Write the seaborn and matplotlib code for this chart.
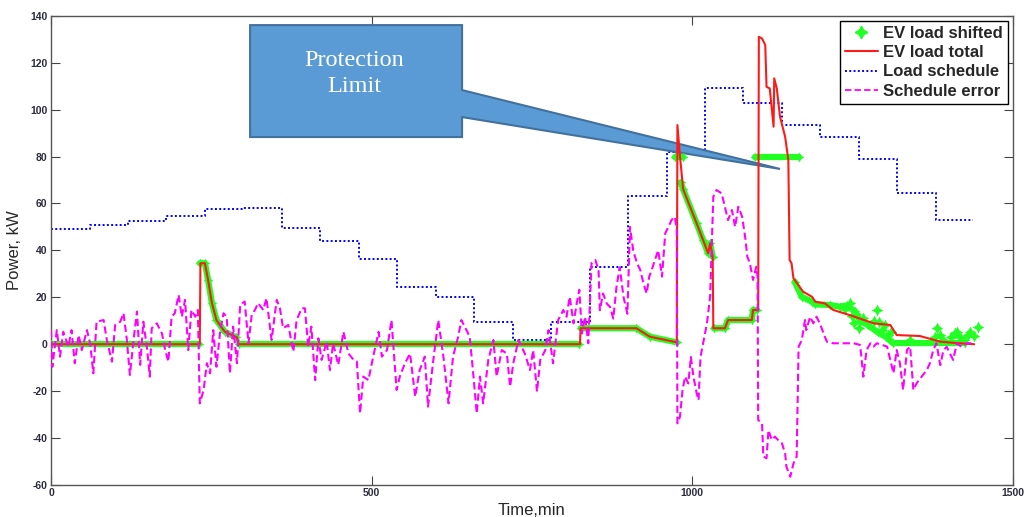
#%% Imports
import matplotlib
matplotlib.use("Agg")
import matplotlib.pyplot as plt
from matplotlib.lines import Line2D
from matplotlib.patches import Polygon
import pandas as pd
import seaborn as sns

#%% Data (time in minutes, power in kW)
# Load schedule, one value per hour (last value repeated to close the step)
schedule_t = [0, 60, 120, 180, 240, 300, 360, 420, 480, 540, 600, 660, 720,
              780, 840, 900, 960, 1020, 1080, 1140, 1200, 1260, 1320, 1380, 1438]
schedule_p = [49, 51, 52.5, 54.5, 57.5, 58, 49.5, 44, 36.5, 24.5, 20, 9.6, 1.8,
              9.6, 32.8, 63, 82, 109.3, 103, 93.4, 88.4, 78.8, 64.5, 53, 53]

# EV load total
total_t = [0, 232, 233, 240, 245, 251, 258, 271, 290, 292,
           825, 826, 913, 934, 976, 977, 981, 986, 1007, 1017,
           1025, 1028, 1032, 1033, 1051, 1056, 1093, 1095, 1103, 1104,
           1109, 1114, 1116, 1121, 1127, 1128, 1132, 1137, 1145, 1150,
           1152, 1155, 1158, 1173, 1187, 1192, 1207, 1220, 1246, 1283,
           1309, 1319, 1355, 1387, 1407, 1440]
total_p = [0, 0, 34.5, 34.5, 27.3, 17.4, 10.3, 5.3, 2.9, 0,
           0, 6.8, 6.8, 3.2, 0.8, 93.4, 80, 66, 51.5, 44.4,
           38.7, 43, 37.3, 6.8, 6.8, 10.3, 10.3, 14.6, 14.6, 131,
           130.3, 127.5, 109.7, 109, 92.7, 113.3, 109, 97, 88.4, 78.5,
           35.9, 34.5, 28.1, 22.4, 20.2, 18.1, 17.4, 14.6, 12.4, 8.9,
           8.2, 3.9, 3.5, 1.1, 0.6, 0]

# EV load shifted, stored as separate runs (no line between runs)
shift_run = [0, 0,
             1, 1, 1, 1, 1, 1, 1,
             2, 2,
             3, 3, 3, 3,
             4, 4,
             5, 5, 5, 5, 5, 5, 5,
             6, 6, 6, 6, 6, 6,
             7, 7,
             8, 8, 8, 8, 8, 8, 8, 8, 8, 8, 8, 8, 8, 8]
shift_t = [0, 231,
           232, 240, 245, 251, 258, 271, 289,
           293, 824,
           826, 913, 934, 976,
           973, 985,
           982, 986, 1007, 1017, 1025, 1028, 1032,
           1034, 1051, 1056, 1093, 1095, 1101,
           1098, 1166,
           1160, 1171, 1187, 1192, 1215, 1230, 1241, 1254, 1262, 1275, 1290, 1303, 1313, 1425]
shift_p = [0, 0,
           34.5, 34.5, 27.3, 17.4, 10.3, 5.3, 2.9,
           0, 0,
           6.8, 6.8, 3.2, 0.8,
           80, 80,
           69, 66, 51.5, 44.4, 38.7, 43, 37.3,
           6.8, 6.8, 10.3, 10.3, 14.6, 14.6,
           80, 80,
           26.6, 20.2, 18.1, 17, 16.7, 16, 16.5, 14, 10, 8, 5, 3, 0.5, 0.5]

# scattered EV load shifted points at the end of the day
scatter_t = [1238, 1246, 1250, 1252, 1256, 1260, 1266, 1284, 1288, 1292, 1296, 1300, 1306, 1310,
             1340, 1378, 1382, 1386, 1392, 1404, 1410, 1413, 1418, 1424, 1430, 1434, 1440, 1446]
scatter_p = [15, 17.4, 12, 9, 13, 7, 11, 10, 14.6, 9.6, 6, 8, 4, 5,
             2, 3, 6.8, 4, 2, 3, 4.6, 5.3, 3, 2, 4, 5.3, 3.5, 7.2]

# Schedule error
error_t = [0, 2, 9, 14, 19, 27, 32, 37, 43, 48, 56, 61, 66, 71, 82, 87, 95, 100, 108, 113,
           118, 123, 129, 134, 139, 144, 150, 154, 157, 165, 173, 178, 183, 188, 193, 199, 204, 209, 214, 219,
           225, 229, 232, 238, 243, 248, 253, 258, 264, 269, 274, 279, 284, 290, 295, 302, 308, 313, 318, 323,
           331, 336, 344, 352, 357, 362, 370, 378, 383, 391, 396, 401, 406, 412, 417, 422, 430, 435, 440, 448,
           456, 464, 472, 477, 482, 487, 495, 503, 511, 516, 524, 531, 539, 544, 552, 560, 568, 575, 583, 588,
           596, 604, 612, 620, 627, 635, 640, 648, 653, 658, 664, 669, 674, 682, 690, 695, 703, 711, 716, 721,
           729, 739, 747, 752, 758, 763, 771, 776, 783, 791, 799, 804, 809, 815, 820, 824, 828, 833, 838, 843,
           849, 854, 856, 861, 867, 872, 877, 882, 887, 893, 899, 903, 908, 914, 919, 924, 929, 933, 937, 942,
           947, 953, 958, 963, 968, 973, 976, 977, 981, 985, 989, 994, 998, 1002, 1007, 1010, 1013, 1017, 1023, 1028,
           1033, 1038, 1046, 1051, 1056, 1062, 1067, 1072, 1078, 1083, 1086, 1090, 1095, 1100, 1102, 1103, 1109, 1111, 1116, 1119,
           1124, 1129, 1134, 1140, 1145, 1147, 1153, 1158, 1163, 1166, 1171, 1176, 1178, 1184, 1189, 1194, 1199, 1205, 1210, 1220,
           1252, 1262, 1267, 1272, 1278, 1283, 1288, 1304, 1309, 1314, 1319, 1324, 1329, 1335, 1340, 1345, 1350, 1358, 1366, 1371,
           1376, 1381, 1387, 1392, 1397, 1402, 1407, 1413, 1420, 1428, 1438]
error_p = [6, -9.6, 6, -5.3, 5.3, -1, 6, -8.1, 3.9, -2.5, 6, 0.3, -12.4, 9.6, 10.3, 1.8, -7.4, 8.2, 9.6, 13.2,
           2.5, -13.1, 2.5, 13.9, -8.8, 9.6, -2.5, -13.8, 6.8, 8.9, 4.6, -2.5, -7.4, 11.7, 13.2, 21, 11.7, 18.9, -2.5, 14.6,
           11.7, 14.6, -25.2, -19.5, -8.1, -12.4, 6, -9.6, 6, 13.2, 11.7, -12.4, 7.5, -8.1, 16.8, 18.2, 0.4, 12.5, 14.6, 17.5,
           14.6, 19.6, 1.8, 18.9, 15.3, 6.8, 8.2, -3.2, 10.3, 15.3, 15.3, -1, 7.5, -15.3, 2.5, -6.7, 1.1, -11, 0.4, -8.8,
           5.3, -4, -6.7, -7.4, -29.5, -13.8, -15.3, -4.6, 5.3, -5.3, -2.5, 10.3, -19.5, -13.8, -8.1, -4, -22.4, -11, -5.3, -26.6,
           -7.4, 10.3, -5.3, -25.2, -5.3, 3.2, 10.3, 6, 3.2, -11, -29.5, -13.8, -25.2, -6.7, 1.8, -13.8, -2.5, -4, -18.2, -8.1,
           1.8, -4, -11, -2.5, -20.2, -6.7, -2.5, 6, -8.1, 10.3, 14.6, 11.7, 20.2, 8.9, 17.5, 23.2, 4.6, 11.7, 0.4, 34.5,
           35.9, 31.6, 14.5, 21.6, 17.2, 15.9, 10.9, 24.5, 32.8, 20, 13, 50, 40, 34.5, 31.7, 26, 21.6, 28.8, 31.7, 36,
           40, 28.8, 47.3, 50, 53, 54.3, 48.6, -33.7, -30.9, -19.5, -13.8, -16.7, -5.4, -13.8, -20.9, -23.8, -5.4, 0.3, 8.8, 20.2,
           62.9, 65.7, 64.3, 58.6, 52.9, 57.2, 50, 58.6, 54.3, 45, 37.3, 34.5, 27.4, 33, 28.8, -32.3, -33.7, -47.9, -48.6, -36.6,
           -40.8, -39.4, -40.8, -42.2, -46.5, -52.2, -56.5, -50.8, -47.9, -1.1, 1.8, 10.3, 6, 11.7, 8.9, 11.7, 8.9, 4.6, 1.1, 0.4,
           0.4, -0.3, -13.8, -2.5, 0.4, -1, 0.4, -1, -6.7, -12.4, -2.5, -8.1, -19.5, -2.5, -1, -19.5, -16.7, -13.8, -11, -8,
           -2.5, 0.4, -8.9, -2.5, -1.1, -3.9, -6.7, 0.4, -1.1, 0.4, 0.4]

legend_labels = ['EV load shifted', 'EV load total', 'Load schedule', 'Schedule error']
x_ticks = [0, 500, 1000, 1500]
y_ticks = [-60, -40, -20, 0, 20, 40, 60, 80, 100, 120, 140]

#%% Colours
c_shift = '#22ff22'
c_total = '#ff1a1a'
c_sched = '#0000ff'
c_error = '#ff00ff'

#%% Figure setup
sns.set_theme(style="ticks")
plt.rcParams['font.family'] = ['Liberation Sans', 'DejaVu Sans']
plt.rcParams['axes.unicode_minus'] = False

fig = plt.figure(figsize=(10.27, 5.17), dpi=100)
ax = fig.add_axes([0.0497, 0.0619, 0.9364, 0.9077])

df_sched = pd.DataFrame({'t': schedule_t, 'p': schedule_p})
df_total = pd.DataFrame({'t': total_t, 'p': total_p})
df_shift = pd.DataFrame({'run': shift_run, 't': shift_t, 'p': shift_p})
df_scatter = pd.DataFrame({'t': scatter_t, 'p': scatter_p})
df_error = pd.DataFrame({'t': error_t, 'p': error_p})

# Load schedule (stepped, dotted) - sits below the callout
sns.lineplot(data=df_sched, x='t', y='p', ax=ax, color=c_sched, linewidth=1.4,
             drawstyle='steps-post', zorder=2)
ax.lines[-1].set_linestyle((0, (1, 1.2)))

# Callout box "Protection Limit"
callout = Polygon([(0.207, 0.980), (0.4274, 0.980), (0.4274, 0.8415), (0.758, 0.6735),
                   (0.4274, 0.784), (0.4274, 0.7415), (0.207, 0.7415)],
                  closed=True, transform=ax.transAxes, facecolor='#5b9bd5',
                  edgecolor='#41719c', linewidth=1.5, zorder=2.5)
ax.add_patch(callout)
ax.text(0.315, 0.877, 'Protection\nLimit', transform=ax.transAxes, ha='center', va='center',
        color='white', fontsize=17.5, family=['Liberation Serif'], linespacing=1.35, zorder=2.6)

# EV load shifted (thick green band with star markers)
sns.lineplot(data=df_shift, x='t', y='p', units='run', estimator=None, ax=ax,
             color=c_shift, linewidth=4.5, marker=(4, 1, 0), markersize=7,
             markeredgewidth=0, zorder=3)
sns.scatterplot(data=df_scatter, x='t', y='p', ax=ax, color=c_shift, marker=(4, 1, 0),
                s=70, linewidth=0, zorder=3)

# EV load total
sns.lineplot(data=df_total, x='t', y='p', ax=ax, color=c_total, linewidth=1.5, zorder=4)

# Schedule error
sns.lineplot(data=df_error, x='t', y='p', ax=ax, color=c_error, linewidth=1.5, zorder=5)
ax.lines[-1].set_dashes([3.5, 1.8])

#%% Axes styling
ax.set_xlim(0, 1500)
ax.set_ylim(-60, 140)
ax.set_xticks(x_ticks)
ax.set_yticks(y_ticks)
ax.set_xlabel('Time,min', fontsize=12, labelpad=3)
ax.set_ylabel('Power, kW', fontsize=12, labelpad=6)
ax.tick_params(direction='in', length=6.5, width=0.8, color='#444444', labelsize=7.5,
               labelcolor='#2b2b3f', pad=2.5, top=True, right=True)
for lab in ax.get_xticklabels() + ax.get_yticklabels():
    lab.set_fontweight('bold')
for s in ax.spines.values():
    s.set_color('#555555')
    s.set_linewidth(1)

handles = [Line2D([], [], color=c_shift, marker=(4, 1, 0), markersize=9, linestyle='none'),
           Line2D([], [], color=c_total, linewidth=1.5),
           Line2D([], [], color=c_sched, linewidth=1.4, linestyle=(0, (1, 1.2))),
           Line2D([], [], color=c_error, linewidth=1.3, linestyle=(0, (3.5, 1.8)))]
leg = ax.legend(handles=handles, labels=legend_labels, loc='upper right',
                bbox_to_anchor=(0.995, 0.9887), borderaxespad=0, fancybox=False,
                framealpha=1, edgecolor='black', prop={'weight': 'bold', 'size': 12},
                handlelength=2.0, handletextpad=0.3, labelspacing=0.25, borderpad=0.3)
leg.get_frame().set_linewidth(1)
leg.set_zorder(10)

fig.savefig('out.png', dpi=100)
